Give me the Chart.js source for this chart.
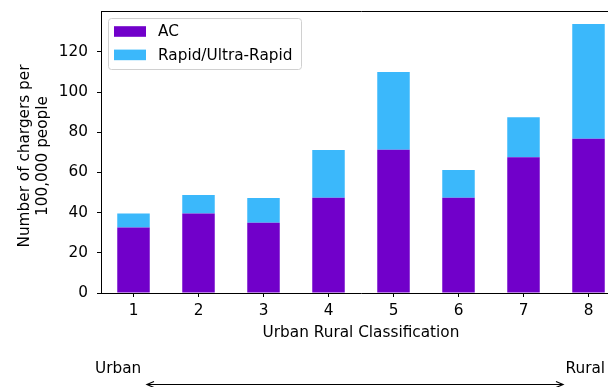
<!DOCTYPE html>
<html>
<head>
<meta charset="utf-8">
<script src="https://cdn.jsdelivr.net/npm/chart.js@4"></script>
<style>
    html, body { margin: 0; padding: 0; background: #fff; overflow: hidden; }
    #wrap { width: 608px; height: 387px; overflow: hidden; }
</style>
</head>
<body>
<div id="wrap"><canvas id="chargerChart" width="640" height="387"></canvas></div>
<script>
const categories = ['1', '2', '3', '4', '5', '6', '7', '8'];
const acValues = [32.6, 39.6, 35.0, 47.4, 71.3, 47.4, 67.5, 76.8];
const rapidValues = [7.0, 9.2, 12.3, 23.7, 38.7, 13.8, 19.9, 57.0];
const yTicks = [0, 20, 40, 60, 80, 100, 120];
const seriesNames = ['AC', 'Rapid/Ultra-Rapid'];
const seriesColors = ['#7100ca', '#3bb8fb'];
const yTitleLines = ['Number of chargers per', '100,000 people'];

const FONT = 'DejaVu Sans';
const FONT_SIZE = 15.3;

// draws the frame, y title, the legend box and the urban/rural arrow below the axis
const extrasPlugin = {
    id: 'extras',
    afterDraw(chart) {
        const ctx = chart.ctx;
        const area = chart.chartArea;
        ctx.save();

        // top and right spines
        ctx.strokeStyle = '#000';
        ctx.lineWidth = 1;
        ctx.beginPath();
        ctx.moveTo(Math.round(area.left) + 0.5, Math.round(area.top) + 0.5);
        ctx.lineTo(Math.round(area.right) + 0.5, Math.round(area.top) + 0.5);
        ctx.lineTo(Math.round(area.right) + 0.5, Math.round(area.bottom) + 0.5);
        ctx.stroke();

        ctx.font = FONT_SIZE + 'px "' + FONT + '"';
        ctx.textBaseline = 'middle';

        // y axis title, two lines rotated
        ctx.save();
        ctx.translate(25, 156);
        ctx.rotate(-Math.PI / 2);
        ctx.textAlign = 'center';
        ctx.fillStyle = '#000';
        yTitleLines.forEach((line, i) => ctx.fillText(line, 0, i * 18.3));
        ctx.restore();

        // legend
        const lx = area.left + 7.5, ly = area.top + 7.5, lw = 193, lh = 51;
        ctx.fillStyle = 'rgba(255,255,255,0.8)';
        ctx.strokeStyle = '#d0d0d0';
        ctx.beginPath();
        ctx.roundRect(lx, ly, lw, lh, 3);
        ctx.fill();
        ctx.stroke();
        ctx.textAlign = 'left';
        seriesNames.forEach((name, i) => {
            const rowY = area.top + 20.5 + i * 23.4;
            ctx.fillStyle = seriesColors[i];
            ctx.fillRect(area.left + 13, rowY - 5.3, 32, 10.6);
            ctx.fillStyle = '#000';
            ctx.fillText(name, area.left + 57, rowY + 0.8);
        });

        // urban / rural labels and arrow
        ctx.fillStyle = '#000';
        ctx.fillText('Urban', 95, 369);
        ctx.fillText('Rural', 565.5, 369);
        const ay = 384.5, ax1 = 147, ax2 = 563;
        ctx.strokeStyle = '#000';
        ctx.lineWidth = 1.2;
        ctx.beginPath();
        ctx.moveTo(ax1, ay);
        ctx.lineTo(ax2, ay);
        ctx.moveTo(ax1 + 7, ay - 3);
        ctx.lineTo(ax1, ay);
        ctx.lineTo(ax1 + 7, ay + 3);
        ctx.moveTo(ax2 - 7, ay - 3);
        ctx.lineTo(ax2, ay);
        ctx.lineTo(ax2 - 7, ay + 3);
        ctx.stroke();
        ctx.restore();
    }
};

const ctx = document.getElementById('chargerChart').getContext('2d');
new Chart(ctx, {
    type: 'bar',
    data: {
        labels: categories,
        datasets: [
            { label: seriesNames[0], data: acValues, backgroundColor: seriesColors[0], borderWidth: 0 },
            { label: seriesNames[1], data: rapidValues, backgroundColor: seriesColors[1], borderWidth: 0 }
        ]
    },
    options: {
        responsive: false,
        animation: false,
        devicePixelRatio: 1,
        barPercentage: 0.5,
        categoryPercentage: 1,
        layout: { padding: { top: 11, right: 19, bottom: 40, left: 0 } },
        plugins: {
            legend: { display: false },
            tooltip: { enabled: false }
        },
        scales: {
            x: {
                stacked: true,
                offset: true,
                grid: { display: true, drawOnChartArea: false, offset: false, tickLength: 4, color: '#000' },
                border: { display: true, color: '#000', width: 1 },
                ticks: { color: '#000', padding: 5, font: { family: FONT, size: FONT_SIZE } },
                title: {
                    display: true,
                    text: 'Urban Rural Classification',
                    color: '#000',
                    font: { family: FONT, size: FONT_SIZE },
                    padding: { top: 0, bottom: 5 }
                },
                afterFit(scale) {
                    scale.height = 54;
                    scale.paddingLeft = 0;
                    scale.paddingRight = 0;
                }
            },
            y: {
                stacked: true,
                min: 0,
                max: 140.3,
                grid: { display: true, drawOnChartArea: false, tickLength: 4, color: '#000' },
                border: { display: true, color: '#000', width: 1 },
                ticks: { color: '#000', padding: 9, font: { family: FONT, size: FONT_SIZE } },
                afterBuildTicks(scale) { scale.ticks = yTicks.map(v => ({ value: v })); },
                afterFit(scale) {
                    scale.width = 101;
                    scale.paddingTop = 0;
                    scale.paddingBottom = 0;
                }
            }
        }
    },
    plugins: [extrasPlugin]
});
</script>
</body>
</html>
